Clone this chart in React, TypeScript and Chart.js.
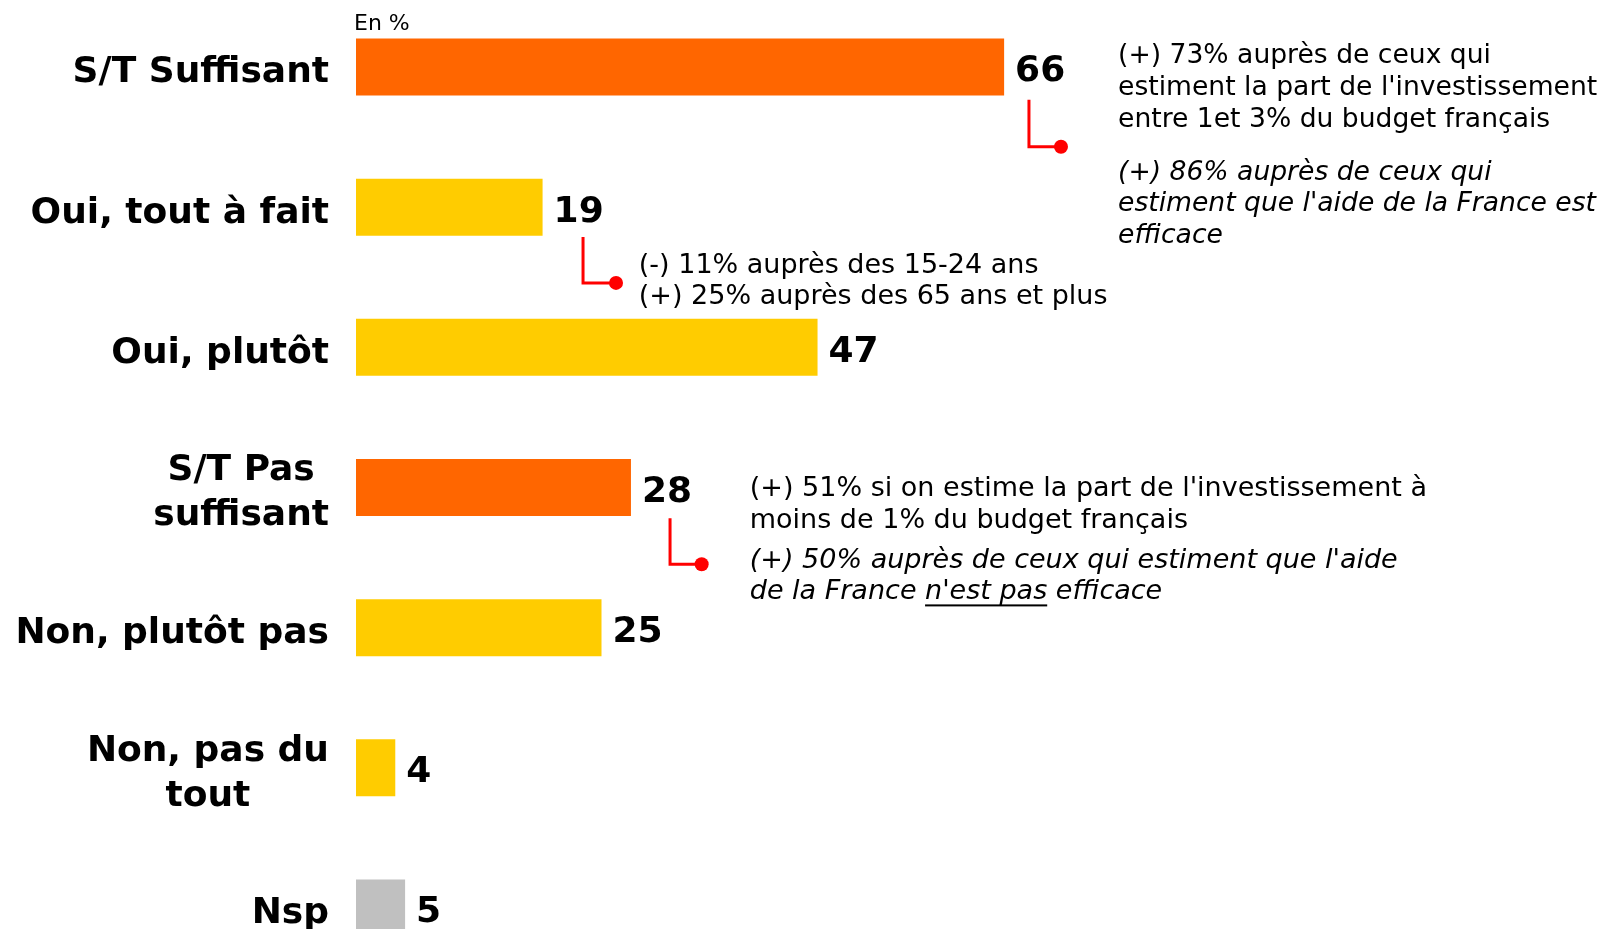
import { useEffect, useRef } from "react";
import { Chart, registerables } from "chart.js";

Chart.register(...registerables);

// ---------- data ----------
const categories: string[][] = [
  ["S/T Suffisant"],
  ["Oui, tout à fait"],
  ["Oui, plutôt"],
  ["S/T Pas", "suffisant"],
  ["Non, plutôt pas"],
  ["Non, pas du", "tout"],
  ["Nsp"],
];
const values: number[] = [66, 19, 47, 28, 25, 4, 5];
const barColors: string[] = ["#FF6600", "#FFCC00", "#FFCC00", "#FF6600", "#FFCC00", "#FFCC00", "#C0C0C0"];
const unitLabel = "En %";

const noteA1: string[] = [
  "(+) 73% auprès de ceux qui",
  "estiment la part de l'investissement",
  "entre 1et 3% du budget français",
];
const noteA2: string[] = [
  "(+) 86% auprès de ceux qui",
  "estiment que l'aide de la France est",
  "efficace",
];
const noteB: string[] = ["(-) 11% auprès des 15-24 ans", "(+) 25% auprès des 65 ans et plus"];
const noteC1: string[] = ["(+) 51% si on estime la part de l'investissement à", "moins de 1% du budget français"];
const noteC2: { text: string; underline?: boolean }[][] = [
  [{ text: "(+) 50% auprès de ceux qui estiment que l'aide" }],
  [{ text: "de la France " }, { text: "n'est pas", underline: true }, { text: " efficace" }],
];

// ---------- layout (positions relative to scales) ----------
const LABEL_FONT = "bold 36px 'DejaVu Sans'";
const VALUE_FONT = "bold 36px 'DejaVu Sans'";
const NOTE_LH = 31.7;

const noteLayout = [
  { lines: noteA1, font: "26.6px 'DejaVu Sans'", cat: 0, xVal: 77.6, dy: -10.8 },
  { lines: noteA2, font: "oblique 26.6px 'DejaVu Sans'", cat: 0, xVal: 77.6, dy: 105.6 },
  { lines: noteB, font: "27px 'DejaVu Sans'", cat: 1, xVal: 28.8, dy: 58.3 },
  { lines: noteC1, font: "27px 'DejaVu Sans'", cat: 3, xVal: 40.1, dy: 1.3 },
];
const richLayout = { lines: noteC2, font: "oblique 27px 'DejaVu Sans'", cat: 3, xVal: 40.1, dy: 73.2 };

const connectors = [
  { cat: 0, xVal: 68.53, y1: 32.7, y2: 79.7, dotVal: 71.79 },
  { cat: 1, xVal: 23.12, y1: 29.7, y2: 75.7, dotVal: 26.48 },
  { cat: 3, xVal: 31.98, y1: 30.8, y2: 76.8, dotVal: 35.2 },
];

const overlayPlugin = {
  id: "overlay",
  afterDatasetsDraw(chart: any) {
    const ctx: CanvasRenderingContext2D = chart.ctx;
    const xs = chart.scales.x;
    const ys = chart.scales.y;
    const left = chart.chartArea.left;
    ctx.save();
    ctx.fillStyle = "#000";
    ctx.textBaseline = "middle";

    // category labels (block right-aligned, lines centred)
    ctx.font = LABEL_FONT;
    categories.forEach((lines, i) => {
      const cy = ys.getPixelForValue(i);
      const maxW = Math.max(...lines.map((l) => ctx.measureText(l).width));
      const cx = left - 27 - maxW / 2;
      const lh = 45;
      const startY = cy - ((lines.length - 1) * lh) / 2 + 6;
      ctx.textAlign = "center";
      lines.forEach((l, k) => ctx.fillText(l, cx, startY + k * lh));
    });

    // values
    ctx.font = VALUE_FONT;
    ctx.textAlign = "left";
    values.forEach((v, i) => {
      ctx.fillText(String(v), xs.getPixelForValue(v) + 11, ys.getPixelForValue(i) + 5);
    });

    // unit label
    ctx.font = "22px 'DejaVu Sans'";
    ctx.fillText(unitLabel, left - 2, ys.getPixelForValue(0) - 43);

    // notes
    noteLayout.forEach((n) => {
      ctx.font = n.font;
      const x = xs.getPixelForValue(n.xVal);
      const y0 = ys.getPixelForValue(n.cat) + n.dy;
      n.lines.forEach((l, k) => ctx.fillText(l, x, y0 + k * NOTE_LH));
    });
    {
      ctx.font = richLayout.font;
      const x0 = xs.getPixelForValue(richLayout.xVal);
      const y0 = ys.getPixelForValue(richLayout.cat) + richLayout.dy;
      richLayout.lines.forEach((segs, k) => {
        let x = x0;
        const y = y0 + k * NOTE_LH;
        segs.forEach((s) => {
          const w = ctx.measureText(s.text).width;
          ctx.fillText(s.text, x, y);
          if (s.underline) {
            ctx.fillRect(x, y + 12, w, 2);
          }
          x += w;
        });
      });
    }

    // connectors
    ctx.strokeStyle = "#FF0000";
    ctx.fillStyle = "#FF0000";
    ctx.lineWidth = 3;
    connectors.forEach((c) => {
      const x = xs.getPixelForValue(c.xVal);
      const cy = ys.getPixelForValue(c.cat);
      const dx = xs.getPixelForValue(c.dotVal);
      ctx.beginPath();
      ctx.moveTo(x, cy + c.y1);
      ctx.lineTo(x, cy + c.y2);
      ctx.lineTo(dx, cy + c.y2);
      ctx.stroke();
      ctx.beginPath();
      ctx.arc(dx, cy + c.y2, 7, 0, Math.PI * 2);
      ctx.fill();
    });
    ctx.restore();
  },
};

export default function App() {
  const ref = useRef<HTMLCanvasElement>(null);
  useEffect(() => {
    if (!ref.current) return;
    const chart = new Chart(ref.current, {
      type: "bar",
      data: {
        labels: categories.map((c) => c.join(" ")),
        datasets: [
          {
            data: values,
            backgroundColor: barColors,
            borderWidth: 0,
            barPercentage: 0.4067,
            categoryPercentage: 1,
          },
        ],
      },
      options: {
        indexAxis: "y",
        animation: false,
        responsive: false,
        events: [],
        layout: { padding: { left: 356, right: 264, top: 0, bottom: 0 } },
        plugins: { legend: { display: false }, tooltip: { enabled: false } },
        scales: {
          x: { display: false, min: 0, max: 100 },
          y: { display: false, offset: true },
        },
      },
      plugins: [overlayPlugin],
    });
    return () => chart.destroy();
  }, []);
  return (
    <div style={{ position: "fixed", left: 0, top: -3, width: 1602, height: 981, background: "#fff" }}>
      <canvas ref={ref} width={1602} height={981} style={{ display: "block" }} />
    </div>
  );
}
